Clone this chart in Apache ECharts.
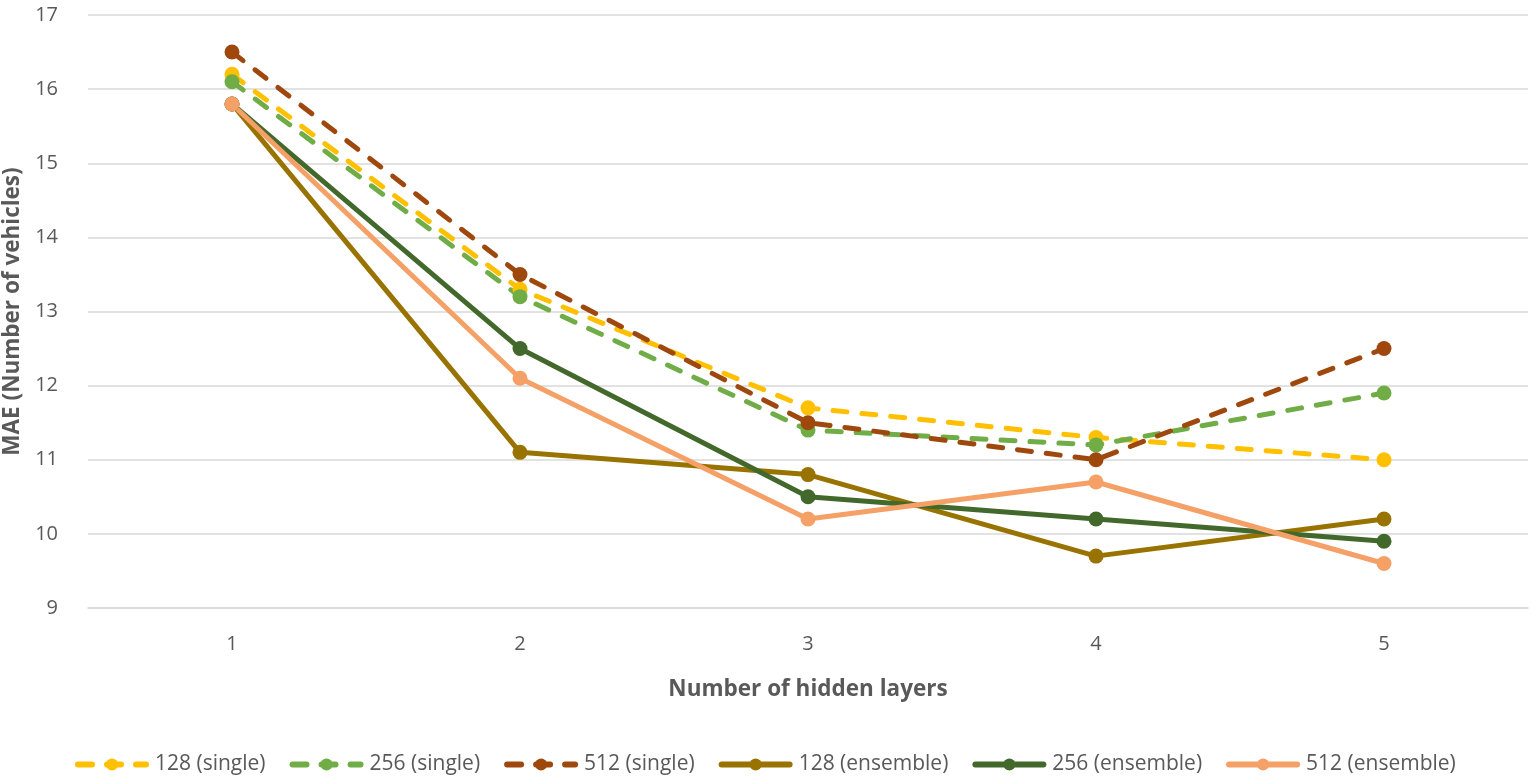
<!DOCTYPE html>
<html>
<head>
<meta charset="utf-8">
<script src="https://cdn.jsdelivr.net/npm/echarts@6/dist/echarts.min.js"></script>
<style>
html, body { margin: 0; padding: 0; background: #fff; }
#main { width: 1535px; height: 784px; }
</style>
</head>
<body>
<div id="main"></div>
<script>
// categories and values
var layers = ['1', '2', '3', '4', '5'];
var single128 = [16.2, 13.3, 11.7, 11.3, 11.0];
var single256 = [16.1, 13.2, 11.4, 11.2, 11.9];
var single512 = [16.5, 13.5, 11.5, 11.0, 12.5];
var ens128 = [15.8, 11.1, 10.8, 9.7, 10.2];
var ens256 = [15.8, 12.5, 10.5, 10.2, 9.9];
var ens512 = [15.8, 12.1, 10.2, 10.7, 9.6];

var chart = echarts.init(document.getElementById('main'));

var mk = function (name, data, color, dashed) {
    return {
        name: name,
        type: 'line',
        data: data,
        symbol: 'circle',
        symbolSize: 15,
        itemStyle: { color: color },
        lineStyle: { color: color, width: 5, cap: 'round', type: dashed ? [14, 15] : 'solid' },
        emphasis: { disabled: true }
    };
};

var option = {
    animation: false,
    textStyle: { fontFamily: 'Open Sans' },
    grid: { left: 88, right: 7, top: 15, bottom: 176, outerBoundsMode: 'none' },
    legend: {
        bottom: 4,
        left: 70,
        itemWidth: 68,
        itemHeight: 15,
        itemGap: 24,
        lineStyle: { width: 6 },
        textStyle: { fontSize: 21, color: '#595959', padding: [0, 0, 0, 4] },
        data: ['128 (single)', '256 (single)', '512 (single)', '128 (ensemble)', '256 (ensemble)', '512 (ensemble)']
    },
    xAxis: {
        type: 'category',
        data: layers,
        boundaryGap: true,
        name: 'Number of hidden layers',
        nameLocation: 'middle',
        nameGap: 70,
        nameTextStyle: { fontSize: 22.5, fontWeight: 'bold', color: '#595959' },
        axisLine: { show: true, lineStyle: { color: '#d9d9d9', width: 1.5 } },
        axisTick: { show: false },
        axisLabel: { fontSize: 20, color: '#595959', margin: 26 }
    },
    yAxis: {
        type: 'value',
        min: 9,
        max: 17,
        interval: 1,
        name: 'MAE (Number of vehicles)',
        nameLocation: 'middle',
        nameGap: 60,
        nameTextStyle: { fontSize: 22.5, fontWeight: 'bold', color: '#595959' },
        axisLine: { show: false },
        axisTick: { show: false },
        axisLabel: { fontSize: 20, color: '#595959', margin: 30 },
        splitLine: { lineStyle: { color: '#d9d9d9', width: 1.5 } }
    },
    series: [
        mk('128 (single)', single128, '#FFC000', true),
        mk('256 (single)', single256, '#70AD47', true),
        mk('512 (single)', single512, '#9E480E', true),
        mk('128 (ensemble)', ens128, '#997300', false),
        mk('256 (ensemble)', ens256, '#43682B', false),
        mk('512 (ensemble)', ens512, '#F4A066', false)
    ]
};
chart.setOption(option);
</script>
</body>
</html>
